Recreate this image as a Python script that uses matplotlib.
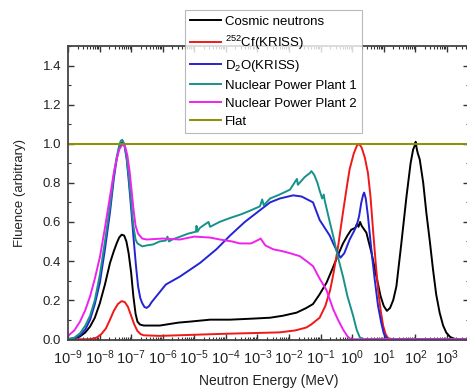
import numpy as np
import matplotlib
matplotlib.use('Agg')
import matplotlib.pyplot as plt
from matplotlib.ticker import LogLocator, MultipleLocator, NullFormatter

plt.rcParams['font.family'] = ['Liberation Sans', 'DejaVu Sans']
plt.rcParams['mathtext.default'] = 'regular'

# values: log10(E / MeV) and fluence
cosmic_logE = [-9.0, -8.8, -8.62, -8.45, -8.3, -8.15, -7.99, -7.83, -7.67, -7.55, -7.46, -7.38,
               -7.3, -7.22, -7.15, -7.08, -7.0, -6.93, -6.86, -6.8, -6.72, -6.6, -6.09, -5.5,
               -5.14, -4.5, -3.87, -3.2, -2.6, -2.2, -1.76, -1.45, -1.24, -1.03, -0.81, -0.6,
               -0.45, -0.29, -0.15, -0.03, 0.1, 0.15, 0.2, 0.25, 0.3, 0.45, 0.6, 0.77, 0.9,
               1.0, 1.1, 1.2, 1.3, 1.4, 1.55, 1.72, 1.85, 1.93, 1.98, 2.01, 2.05, 2.08, 2.14,
               2.25, 2.35, 2.46, 2.56, 2.66, 2.77, 2.88, 2.98, 3.1, 3.19, 3.3, 3.7]
cosmic_val = [0.0, 0.004, 0.014, 0.035, 0.065, 0.11, 0.185, 0.28, 0.39, 0.45, 0.49, 0.52,
              0.535, 0.53, 0.5, 0.44, 0.34, 0.22, 0.13, 0.09, 0.075, 0.07, 0.07, 0.085,
              0.09, 0.10, 0.10, 0.105, 0.11, 0.12, 0.136, 0.16, 0.18, 0.23, 0.29, 0.37,
              0.43, 0.49, 0.53, 0.56, 0.57, 0.59, 0.575, 0.60, 0.58, 0.545, 0.45, 0.32, 0.22,
              0.17, 0.145, 0.16, 0.2, 0.27, 0.48, 0.73, 0.9, 0.97, 0.99, 1.01, 0.97, 0.95, 0.92,
              0.8, 0.646, 0.5, 0.357, 0.23, 0.136, 0.07, 0.034, 0.012, 0.005, 0.0, 0.0]

cf_logE = [-9.0, -8.3, -8.1, -7.95, -7.8, -7.67, -7.55, -7.42, -7.3, -7.2, -7.1, -7.0,
           -6.9, -6.8, -6.7, -6.6, -6.09, -5.14, -4.0, -3.0, -2.3, -1.8, -1.45, -1.3,
           -1.03, -0.85, -0.7, -0.6, -0.45, -0.29, -0.15, -0.08, 0.05, 0.15, 0.22, 0.3,
           0.4, 0.5, 0.58, 0.66, 0.74, 0.82, 0.9, 0.98, 1.06, 1.14, 1.3, 3.7]
cf_val = [0.0, 0.0, 0.008, 0.025, 0.055, 0.1, 0.145, 0.18, 0.195, 0.19, 0.165, 0.12,
          0.075, 0.042, 0.026, 0.02, 0.017, 0.022, 0.028, 0.032, 0.035, 0.045, 0.06, 0.075,
          0.11, 0.17, 0.25, 0.33, 0.47, 0.65, 0.8, 0.87, 0.95, 0.99, 1.0, 0.98,
          0.93, 0.85, 0.73, 0.56, 0.4, 0.255, 0.15, 0.07, 0.025, 0.005, 0.0, 0.0]

d2o_logE = [-9.0, -8.8, -8.62, -8.45, -8.3, -8.15, -7.99, -7.83, -7.67, -7.55, -7.46, -7.38,
            -7.32, -7.27, -7.21, -7.14, -7.07, -6.99, -6.92, -6.85, -6.78, -6.71, -6.65,
            -6.58, -6.51, -6.43, -6.35, -6.2, -5.9, -5.46, -5.14, -4.82, -4.3, -3.87, -3.4,
            -2.92, -2.6, -2.29, -1.87, -1.6, -1.24, -1.03, -0.71, -0.6, -0.45, -0.37, -0.25,
            -0.08, 0.05, 0.14, 0.22, 0.29, 0.35, 0.38, 0.43, 0.5, 0.6, 0.71, 0.82, 0.92,
            1.0, 1.08, 1.2, 3.7]
d2o_val = [0.0, 0.005, 0.02, 0.05, 0.1, 0.18, 0.29, 0.46, 0.65, 0.82, 0.92, 0.98,
           1.0, 1.01, 0.99, 0.92, 0.8, 0.65, 0.51, 0.38, 0.27, 0.21, 0.185,
           0.165, 0.16, 0.17, 0.19, 0.22, 0.28, 0.32, 0.355, 0.39, 0.46, 0.53, 0.6,
           0.66, 0.7, 0.72, 0.736, 0.73, 0.7, 0.61, 0.53, 0.49, 0.44, 0.417, 0.44,
           0.51, 0.55, 0.58, 0.63, 0.7, 0.74, 0.75, 0.72, 0.63, 0.47, 0.31, 0.17, 0.085,
           0.03, 0.005, 0.0, 0.0]

npp1_logE = [-9.0, -8.8, -8.62, -8.45, -8.3, -8.15, -7.99, -7.83, -7.67, -7.55, -7.46, -7.38,
             -7.33, -7.28, -7.22, -7.15, -7.08, -7.0, -6.93, -6.86, -6.8, -6.65, -6.5, -6.3,
             -6.1, -5.9, -5.85, -5.8, -5.7, -5.46, -5.2, -4.95, -4.93, -4.9, -4.82, -4.55,
             -4.5, -4.2, -3.87, -3.5, -3.2, -2.92, -2.85, -2.8, -2.6, -2.3, -1.97, -1.75,
             -1.72, -1.5, -1.34, -1.29, -1.2, -1.1, -1.03, -0.95, -0.9, -0.87, -0.71, -0.6,
             -0.45, -0.29, -0.15, 0.03, 0.14, 0.24, 0.35, 3.7]
npp1_val = [0.0, 0.008, 0.03, 0.07, 0.12, 0.2, 0.33, 0.5, 0.68, 0.84, 0.93, 0.99,
            1.015, 1.02, 1.0, 0.94, 0.84, 0.7, 0.58, 0.51, 0.49, 0.475, 0.48, 0.485,
            0.5, 0.505, 0.525, 0.5, 0.51, 0.524, 0.54, 0.55, 0.58, 0.55, 0.57, 0.6,
            0.575, 0.6, 0.62, 0.64, 0.66, 0.68, 0.715, 0.685, 0.72, 0.74, 0.765, 0.82,
            0.79, 0.83, 0.85, 0.86, 0.84, 0.8, 0.76, 0.72, 0.74, 0.71, 0.6, 0.527,
            0.42, 0.32, 0.22, 0.12, 0.05, 0.01, 0.0, 0.0]

npp2_logE = [-9.0, -8.8, -8.62, -8.45, -8.3, -8.15, -7.99, -7.83, -7.67, -7.55, -7.46, -7.38,
             -7.3, -7.25, -7.18, -7.12, -7.05, -6.98, -6.93, -6.86, -6.78, -6.65, -6.51, -6.0,
             -5.46, -5.0, -4.5, -4.19, -3.8, -3.56, -3.2, -2.95, -2.9, -2.75, -2.5, -2.2,
             -1.97, -1.66, -1.45, -1.24, -1.03, -0.81, -0.6, -0.45, -0.29, -0.15, -0.05, 3.7]
npp2_val = [0.017, 0.045, 0.09, 0.15, 0.22, 0.31, 0.42, 0.57, 0.73, 0.85, 0.92, 0.97,
            0.99, 1.0, 0.98, 0.94, 0.86, 0.75, 0.67, 0.58, 0.54, 0.515, 0.51, 0.515,
            0.51, 0.525, 0.52, 0.51, 0.5, 0.49, 0.49, 0.51, 0.515, 0.48, 0.46, 0.45,
            0.44, 0.425, 0.4, 0.374, 0.31, 0.25, 0.153, 0.1, 0.05, 0.015, 0.0, 0.0]

flat_logE = [-9.0, 3.7]
flat_val = [1.0, 1.0]

series = [
    (cosmic_logE, cosmic_val, '#000000', 'Cosmic neutrons'),
    (cf_logE, cf_val, '#f01818', '$^{252}$Cf(KRISS)'),
    (d2o_logE, d2o_val, '#2424d4', 'D$_2$O(KRISS)'),
    (npp1_logE, npp1_val, '#17928a', 'Nuclear Power Plant 1'),
    (npp2_logE, npp2_val, '#ee22ee', 'Nuclear Power Plant 2'),
    (flat_logE, flat_val, '#8e8e00', 'Flat'),
]

fig = plt.figure(figsize=(4.67, 3.92), dpi=100, facecolor='white')
ax = fig.add_axes([68 / 467, 52 / 392, 401 / 467, 294 / 392])

for logE, val, color, label in series:
    ax.plot(10.0 ** np.array(logE), val, color=color, lw=1.4, label=label)

ax.set_xscale('log')
ax.set_xlim(1e-9, 10 ** 3.7)
ax.set_ylim(-0.004, 1.5)
ax.set_xticks([10.0 ** k for k in range(-9, 4)])
ax.xaxis.set_minor_locator(LogLocator(base=10, subs=np.arange(2, 10), numticks=100))
ax.xaxis.set_minor_formatter(NullFormatter())
ax.set_yticks([0.0, 0.2, 0.4, 0.6, 0.8, 1.0, 1.2, 1.4])
ax.yaxis.set_minor_locator(MultipleLocator(0.1))
ax.yaxis.set_major_formatter(plt.FormatStrFormatter('%.1f'))

ax.tick_params(which='both', direction='in', top=True, right=True,
               colors='#333333', labelcolor='#222222')
ax.tick_params(which='major', length=4, width=1.0, labelsize=9.5, pad=5)
ax.tick_params(axis='x', which='major', labelsize=10.5, pad=6)
ax.tick_params(which='minor', length=2, width=0.8)
for sp in ax.spines.values():
    sp.set_color('#444444')
    sp.set_linewidth(1.3)

ax.set_xlabel('Neutron Energy (MeV)', fontsize=10, color='#222222', labelpad=5)
ax.set_ylabel('Fluence (arbitrary)', fontsize=9.5, color='#222222', labelpad=12)

leg = ax.legend(loc='upper left', bbox_to_anchor=(185 / 467, 1 - 10 / 392),
                bbox_transform=fig.transFigure, fontsize=9.5, frameon=True,
                fancybox=False, handlelength=2.3, handletextpad=0.35,
                labelspacing=0.45, borderpad=0.4, borderaxespad=0)
leg.get_frame().set_edgecolor('#a8a8a8')
leg.get_frame().set_linewidth(0.8)

fig.savefig('out.png', dpi=100, facecolor='white')
